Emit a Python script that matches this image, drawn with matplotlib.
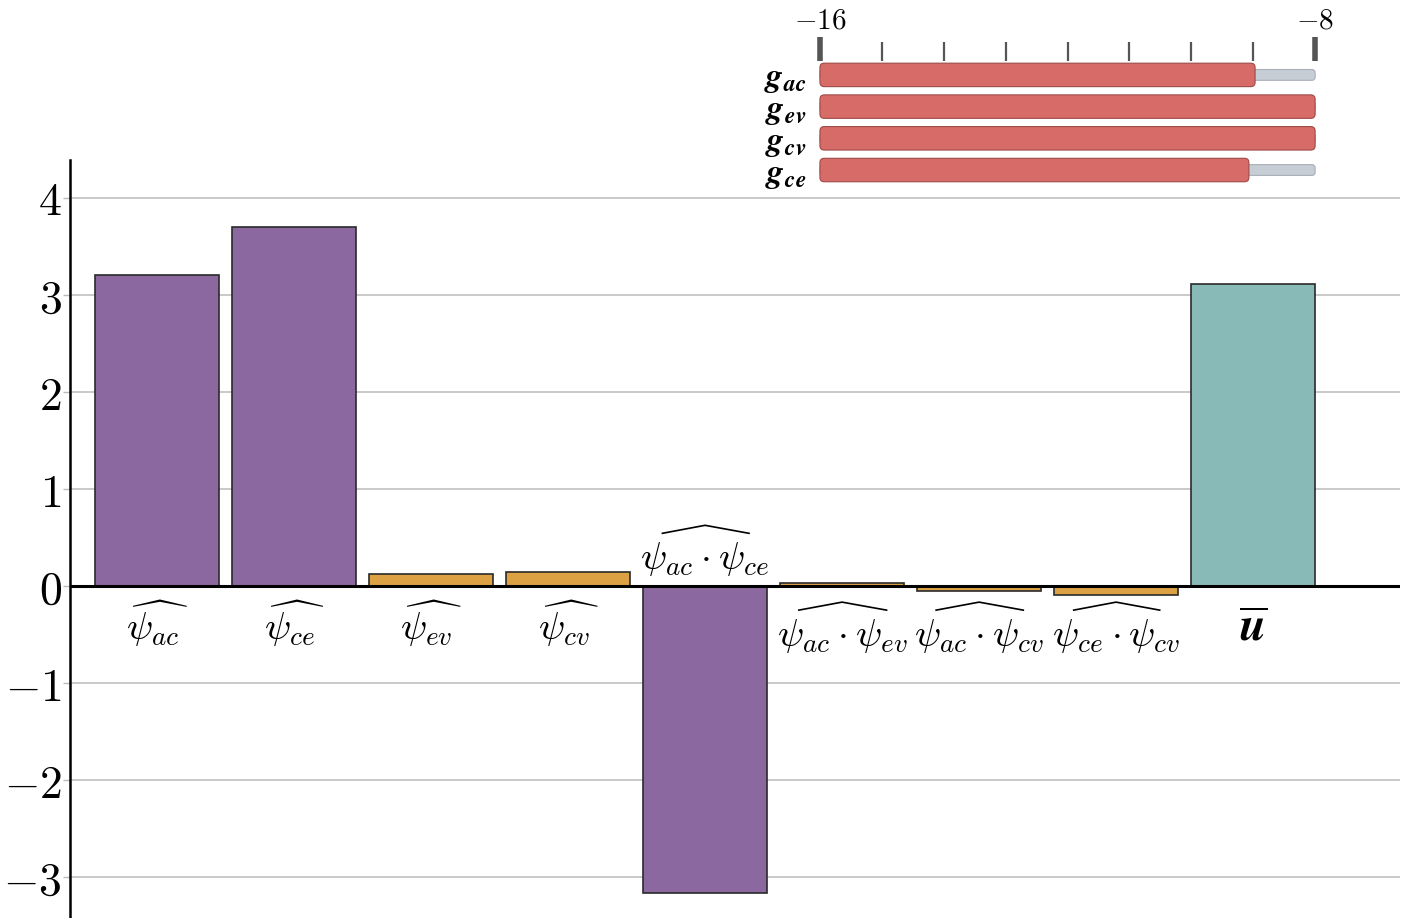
import matplotlib
matplotlib.use('Agg')
import matplotlib.pyplot as plt
from matplotlib.patches import FancyBboxPatch
from matplotlib.lines import Line2D

plt.rcParams['mathtext.fontset'] = 'cm'
plt.rcParams['font.family'] = 'serif'

# Main bar chart data #
labels = [r'$\widehat{\psi_{ac}}$', r'$\widehat{\psi_{ce}}$', r'$\widehat{\psi_{ev}}$',
          r'$\widehat{\psi_{cv}}$', r'$\psi_{ac}\cdot\psi_{ce}$',
          r'$\psi_{ac}\cdot\psi_{ev}$', r'$\psi_{ac}\cdot\psi_{cv}$',
          r'$\psi_{ce}\cdot\psi_{cv}$', r'$\overline{\mathbfit{u}}$']
wide_hat = [False, False, False, False, True, True, True, True, False]
values = [3.21, 3.70, 0.12, 0.14, -3.16, 0.03, -0.05, -0.09, 3.11]
groups = ['main', 'main', 'minor', 'minor', 'main', 'minor', 'minor', 'minor', 'mean']
yticks = [-3, -2, -1, 0, 1, 2, 3, 4]

# Inset data #
g_labels = [r'$\mathbfit{g}_{\mathbfit{ac}}$', r'$\mathbfit{g}_{\mathbfit{ev}}$',
            r'$\mathbfit{g}_{\mathbfit{cv}}$', r'$\mathbfit{g}_{\mathbfit{ce}}$']
g_values = [-8.97, -8.0, -8.0, -9.07]
g_min, g_max = -16, -8

colors = {'main': '#8c68a0', 'minor': '#dca142', 'mean': '#88bab8'}

fig = plt.figure(figsize=(14.04, 9.18), dpi=100)
ax = fig.add_axes([0.0499, 0.0, 0.947, 0.8257])

x = list(range(len(values)))
ax.bar(x, values, width=0.9, color=[colors[g] for g in groups],
       edgecolor='#2a2a2a', linewidth=1.2, zorder=3)
ax.axhline(0, color='black', lw=2.2, zorder=4)

ax.set_xlim(-0.635, 9.07)
ax.set_ylim(-3.42, 4.39)
ax.set_yticks(yticks)
ax.set_yticklabels([f'${v}$' for v in yticks], fontsize=33)
ax.tick_params(axis='y', length=5, width=1, color='#bbbbbb', pad=1)
ax.set_xticks([])
ax.grid(axis='y', color='#c0c0c0', lw=1.2, zorder=0)
for s in ['top', 'right', 'bottom']:
    ax.spines[s].set_visible(False)
ax.spines['left'].set_linewidth(1.8)

# category labels on the opposite side of each bar
texts = []
for xi, v, lab, wide in zip(x, values, labels, wide_hat):
    if v < -1:
        t = ax.text(xi, 0.08, lab, ha='center', va='bottom', fontsize=28)
    elif wide:
        t = ax.text(xi, -0.32, lab, ha='center', va='top', fontsize=28)
    elif lab.startswith(r'$\overline'):
        t = ax.text(xi, -0.2, lab, ha='center', va='top', fontsize=34)
    else:
        t = ax.text(xi, -0.13, lab, ha='center', va='top', fontsize=28)
    texts.append(t)

# thin wide hats over the product labels
fig.canvas.draw()
renderer = fig.canvas.get_renderer()
inv = fig.transFigure.inverted()
for t, wide in zip(texts, wide_hat):
    if not wide:
        continue
    bb = t.get_window_extent(renderer)
    w = bb.x1 - bb.x0
    xs = [bb.x0 + 0.17 * w, bb.x0 + 0.5 * w, bb.x1 - 0.16 * w]
    ys = [bb.y1 + 7, bb.y1 + 15, bb.y1 + 7]
    pts = inv.transform(list(zip(xs, ys)))
    fig.add_artist(Line2D(pts[:, 0], pts[:, 1], color='black', lw=1.2,
                          transform=fig.transFigure))

# Inset with rounded progress bars #
ins = fig.add_axes([0.5796, 0.7996, 0.3615, 0.134])
ins.set_xlim(-16.1, -7.9)
ins.set_ylim(3.44, -0.44)
asp = 1.93
for i, gv in enumerate(g_values):
    bg = FancyBboxPatch((g_min, i - 0.17), g_max - g_min, 0.34,
                        boxstyle='round,pad=0,rounding_size=0.05', mutation_aspect=asp,
                        facecolor='#c7cdd5', edgecolor='#a9afb8', lw=0.8, zorder=2)
    ins.add_patch(bg)
    fg = FancyBboxPatch((g_min, i - 0.37), gv - g_min, 0.74,
                        boxstyle='round,pad=0,rounding_size=0.07', mutation_aspect=asp,
                        facecolor='#d66b67', edgecolor='#9e4a47', lw=0.8, zorder=3)
    ins.add_patch(fg)

ins.set_yticks(range(len(g_labels)))
ins.set_yticklabels(g_labels, fontsize=24)
ins.tick_params(axis='y', length=0, pad=5)
ins.xaxis.tick_top()
ins.set_xticks([g_min, g_max])
ins.set_xticklabels([f'${g_min}$', f'${g_max}$'], fontsize=21)
ins.set_xticks(range(g_min + 1, g_max), minor=True)
ins.tick_params(axis='x', which='major', length=17, width=4, color='#555555', pad=2)
ins.tick_params(axis='x', which='minor', length=14, width=1.6, color='#555555')
for s in ins.spines.values():
    s.set_visible(False)

fig.savefig('out.png', dpi=100)
